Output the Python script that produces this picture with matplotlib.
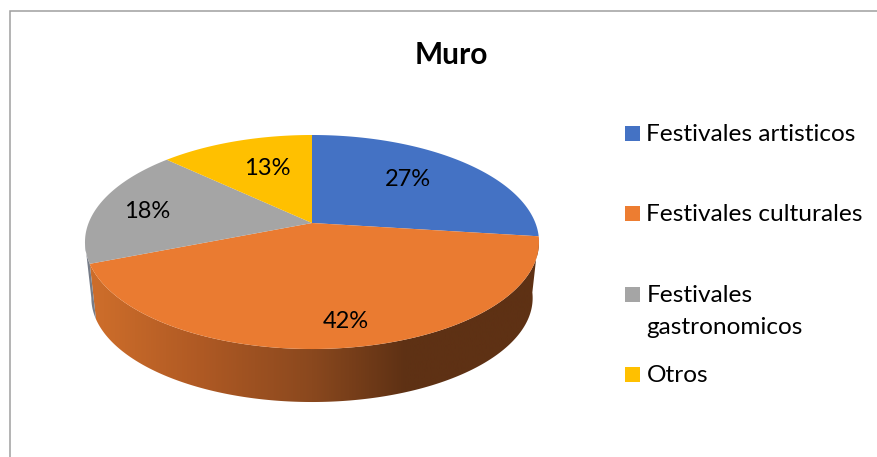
import numpy as np
import matplotlib
matplotlib.use("Agg")
import matplotlib.pyplot as plt
from matplotlib.patches import Polygon, Rectangle
from matplotlib.colors import LinearSegmentedColormap

title = "Muro"
categories = ["Festivales artisticos", "Festivales culturales", "Festivales\ngastronomicos", "Otros"]
values = [27, 42, 18, 13]
colors = ["#4472C4", "#ED7D31", "#A5A5A5", "#FFC000"]

plt.rcParams["font.family"] = ["Lato", "DejaVu Sans"]

W, H = 878, 457
APEX_X, APEX_Y = 312.0, 223.0
RADIUS = 223.4
A, C = -64.03, 0.1776
DEPTH_SCALE, TOP_CY, LOW_CY = 0.972, 242.0, 298.0


def project(theta_deg, r=1.0):
    t = np.radians(theta_deg)
    u, v = r * np.sin(t), r * np.cos(t)
    d = 1 + C * v
    return APEX_X + RADIUS * u / d, (A * v + APEX_Y) / d


def project_low(theta_deg):
    x, y = project(theta_deg)
    return APEX_X + (x - APEX_X) * DEPTH_SCALE, LOW_CY + (y - TOP_CY) * DEPTH_SCALE


fig = plt.figure(figsize=(W / 100, H / 100), dpi=100)
ax = fig.add_axes([0, 0, 1, 1])
ax.set_xlim(0, W)
ax.set_ylim(H, 0)
ax.axis("off")

ax.plot([10.5, 10.5, W], [H, 11, 11], color="#9f9f9f", lw=1.1, solid_joinstyle="miter", zorder=1)

edges = np.concatenate([[0], np.cumsum(values)]) * 360.0 / sum(values)
tangent_right = 180 - np.degrees(np.arcsin(np.sqrt(1 - C ** 2)))
tangent_left = 360 - tangent_right


def wall(t0, t1, cmap):
    th = np.linspace(t0, t1, 200)
    xt, yt = project(th)
    xb, yb = project_low(th)
    poly = Polygon(np.column_stack([np.r_[xt, xb[::-1]], np.r_[yt, yb[::-1]]]),
                   closed=True, facecolor="none", edgecolor="none", transform=ax.transData)
    ax.add_patch(poly)
    grad = np.linspace(0, 1, 600).reshape(1, -1)
    im = ax.imshow(grad, extent=[80, 545, H, 0], cmap=cmap, vmin=0, vmax=1,
                   aspect="auto", zorder=2, interpolation="bilinear")
    im.set_clip_path(poly)


orange_grad = LinearSegmentedColormap.from_list(
    "o", [(0, "#CF6E2B"), (0.05, "#CB6C2A"), (0.25, "#B05A24"), (0.5, "#8A481E"), (0.7, "#5E3114"), (1, "#5E3114")])
grey_grad = LinearSegmentedColormap.from_list("g", [(0, "#767C88"), (1, "#767C88")])

wall(edges[1], edges[2], orange_grad)
wall(edges[2], tangent_left, grey_grad)

ax.set_xlim(0, W)
ax.set_ylim(H, 0)

for i, col in enumerate(colors):
    th = np.linspace(edges[i], edges[i + 1], 200)
    x, y = project(th)
    ax.fill(np.r_[APEX_X, x], np.r_[APEX_Y, y], facecolor=col if col != "#ED7D31" else "#EA7B31",
            edgecolor="none", zorder=3)

label_r = [0.62, 0.809, 0.766, 0.651]
label_nudge = [(-1, -4), (7, 1), (-1, 3.5), (7, 1)]
for i, v in enumerate(values):
    mid = (edges[i] + edges[i + 1]) / 2
    x, y = project(mid, label_r[i])
    ax.text(x + label_nudge[i][0], y + label_nudge[i][1], f"{v}%", fontsize=17, color="#000000",
            ha="center", va="center", zorder=4)

ax.text(451, 54.5, title, fontsize=21.5, fontweight="bold", color="#000000", ha="center", va="center")

legend_y = [133, 213, 294, 374]
for name, col, ly in zip(categories, colors, legend_y):
    ax.add_patch(Rectangle((625, ly - 7.5), 15, 15, facecolor=col, edgecolor="none", zorder=3))
    first_line_offset = 16 if "\n" in name else 0
    ax.text(646.5, ly + first_line_offset + 1.5, name, fontsize=17.6, color="#000000", ha="left", va="center",
            linespacing=1.65)

fig.savefig("out.png", dpi=100, facecolor="white")
